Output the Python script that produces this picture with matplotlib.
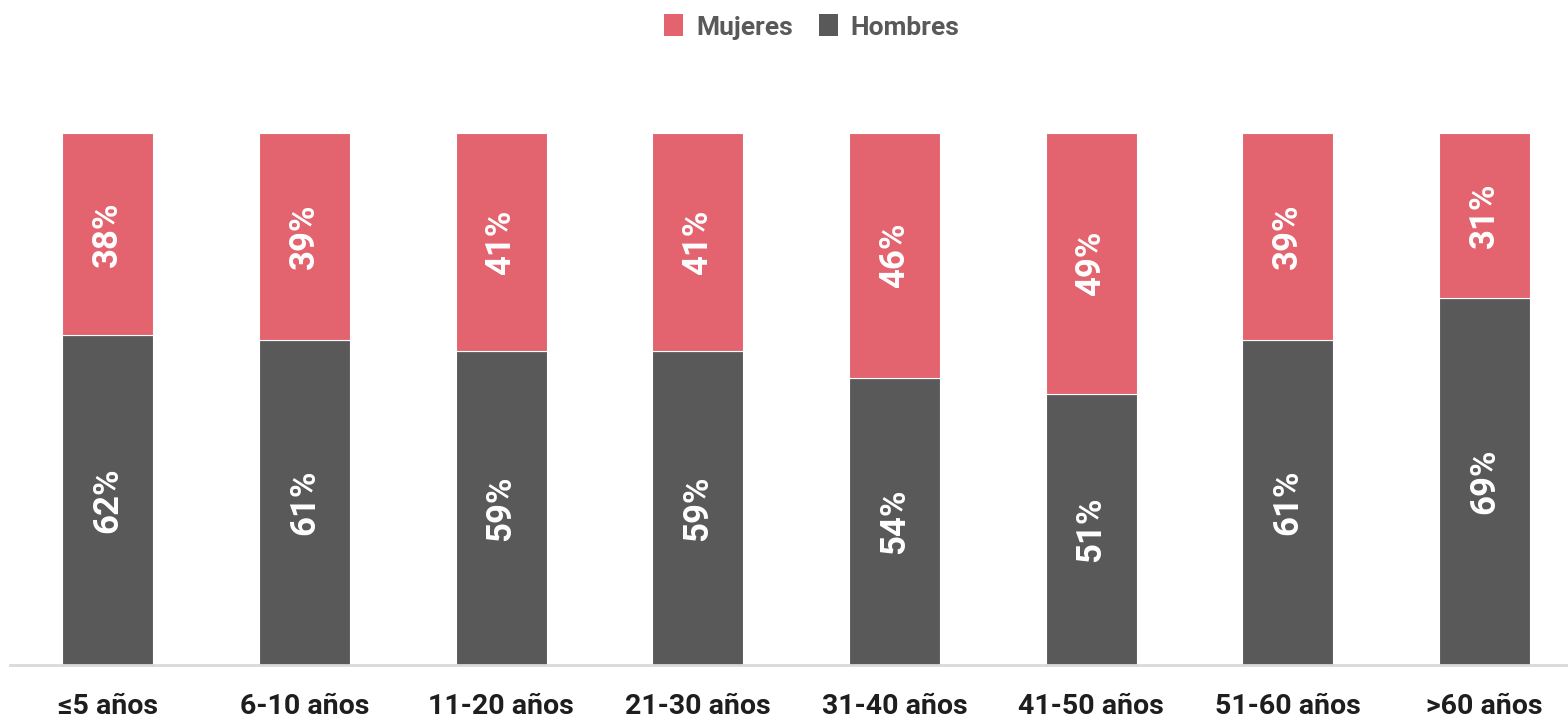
import matplotlib
matplotlib.use("Agg")
import matplotlib.pyplot as plt
from matplotlib.patches import Patch

categories = ["≤5 años", "6-10 años", "11-20 años", "21-30 años",
              "31-40 años", "41-50 años", "51-60 años", ">60 años"]
hombres = [62, 61, 59, 59, 54, 51, 61, 69]
mujeres = [38, 39, 41, 41, 46, 49, 39, 31]

RED = "#E3636F"
DARK = "#595959"
FONT = ["Roboto", "DejaVu Sans"]
plt.rcParams["font.family"] = FONT

fig = plt.figure(figsize=(15.68, 7.21), dpi=100)
ax = fig.add_axes([10 / 1568, (721 - 665) / 721, 1 - 10 / 1568, (665 - 133) / 721])

x = list(range(len(categories)))
w = 0.463
ax.bar(x, hombres, width=w, color=DARK, edgecolor="white", linewidth=0.8)
ax.bar(x, mujeres, width=w, bottom=hombres, color=RED, edgecolor="white", linewidth=0.8)

for i in x:
    ax.text(i, hombres[i] / 2, f"{hombres[i]}%", rotation=90, ha="center", va="center",
            color="white", fontsize=25, fontweight="bold")
    ax.text(i, hombres[i] + mujeres[i] / 2, f"{mujeres[i]}%", rotation=90, ha="center",
            va="center", color="white", fontsize=25, fontweight="bold")

ax.set_xlim(-0.497, 7.425)
ax.set_ylim(0, 100)
ax.set_xticks(x)
ax.set_xticklabels(categories, fontsize=20.5, fontweight="bold", color="#1E1E1E")
ax.tick_params(axis="x", length=0, pad=20)
ax.set_yticks([])
for s in ["top", "right", "left"]:
    ax.spines[s].set_visible(False)
ax.spines["bottom"].set_color("#D9D9D9")
ax.spines["bottom"].set_linewidth(2)

handles = [Patch(facecolor=RED, label="Mujeres"), Patch(facecolor=DARK, label="Hombres")]
leg = fig.legend(handles=handles, loc="center", bbox_to_anchor=(812 / 1568, 1 - 27 / 721),
                 ncol=2, frameon=False, prop={"size": 19, "weight": "bold"},
                 handlelength=0.7, handleheight=0.9, handletextpad=0.5, columnspacing=1.0)
for t in leg.get_texts():
    t.set_color(DARK)

fig.savefig("out.png", dpi=100)
